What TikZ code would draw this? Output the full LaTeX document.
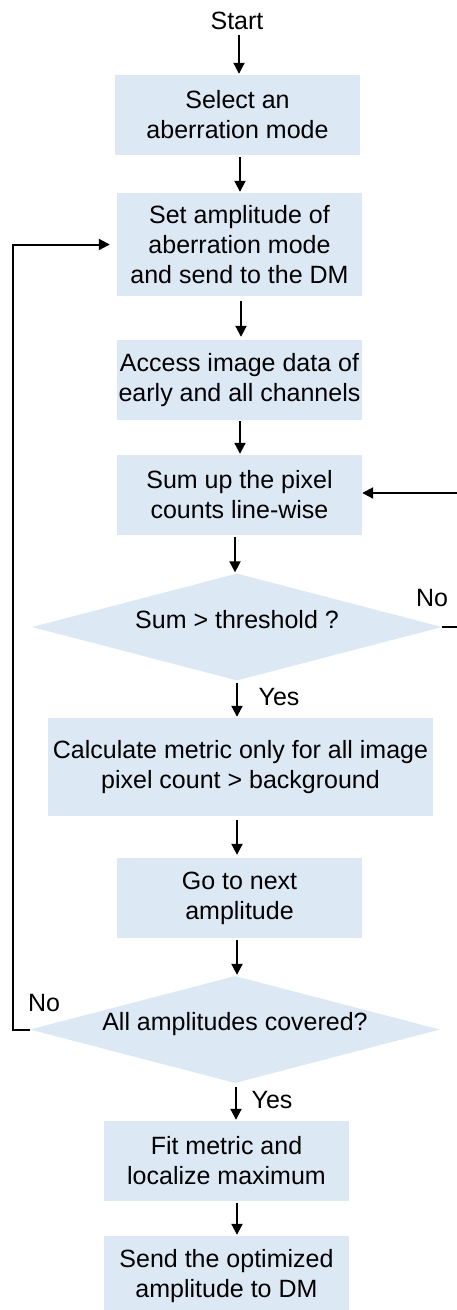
\documentclass[tikz,border=0pt]{standalone}
\usepackage{fontspec}
\setmainfont{Liberation Sans}
\usetikzlibrary{shapes.geometric,arrows.meta,calc}
\definecolor{boxfill}{RGB}{221,232,245}
\begin{document}
\begin{tikzpicture}[x=1pt,y=-1pt,
  every node/.style={font=\fontsize{25}{30}\selectfont, align=center, inner sep=0pt},
  procbox/.style={fill=boxfill, draw=none, minimum height=80pt, minimum width=245pt},
  decision/.style={diamond, fill=boxfill, draw=none, minimum width=410pt, minimum height=107pt, aspect=3.8},
  flow/.style={line width=2pt, -{Triangle[length=11pt,width=11pt]}},
  plainline/.style={line width=2pt}
]
\useasboundingbox (0,0) rectangle (457,1310);
\node (start) at (237,21) {Start};
\node[procbox] (b1) at (237.5,115) {Select an\\aberration mode};
\node[procbox, minimum height=103pt] (b2) at (239.5,244.5) {Set amplitude of\\aberration mode\\and send to the DM};
\node[procbox] (b3) at (239.5,380) {Access image data of\\early and all channels};
\node[procbox] (b4) at (239.5,495) {Sum up the pixel\\counts line-wise};
\node[decision] (d1) at (237,627) {};
\node (d1t) at (237,620) {Sum > threshold ?};
\node[procbox, minimum width=385pt, minimum height=98pt] (b5) at (240.5,767) {Calculate metric only for all image\\pixel count > background};
\node[procbox] (b6) at (239.5,898) {Go to next\\amplitude};
\node[decision] (d2) at (235,1029.5) {};
\node (d2t) at (235,1024) {All amplitudes covered?};
\node[procbox] (b7) at (226.5,1161) {Fit metric and\\localize maximum};
\node[procbox] (b8) at (226.5,1276) {Send the optimized\\amplitude to DM};

\node (no1) at (432,598) {No};
\node (yes1) at (279,697) {Yes};
\node (no2) at (44,1003) {No};
\node (yes2) at (272,1100) {Yes};

\draw[flow, shorten <=5pt, shorten >=1pt] (start.south -| 239,0) -- (b1.north -| 239,0);
\draw[flow, shorten <=2pt, shorten >=1pt] (b1.south -| 240,0) -- (b2.north -| 240,0);
\draw[flow, shorten <=5pt, shorten >=3pt] (b2.south -| 241,0) -- (b3.north -| 241,0);
\draw[flow, shorten <=1pt, shorten >=1pt] (b3.south -| 240,0) -- (b4.north -| 240,0);
\draw[flow, shorten <=2pt, shorten >=1pt] (b4.south -| 235,0) -- (d1.north -| 235,0);
\draw[flow, shorten <=2pt, shorten >=1pt] (d1.south -| 237,0) -- (b5.north -| 237,0);
\draw[flow, shorten <=4pt, shorten >=3pt] (b5.south -| 237,0) -- (b6.north -| 237,0);
\draw[flow, shorten <=2pt, shorten >=1pt] (b6.south -| 237,0) -- (d2.north -| 237,0);
\draw[flow, shorten <=4pt, shorten >=1pt] (d2.south -| 236,0) -- (b7.north -| 236,0);
\draw[flow, shorten <=2pt, shorten >=1pt] (b7.south -| 237,0) -- (b8.north -| 237,0);

% No loop from d1 back to b4 (vertical part lies beyond the right edge)
\coordinate (r1) at (475,627);
\coordinate (r2) at (475,493);
\draw[flow, shorten >=0pt] (d1.east) -- (r1) -- (r2) -- (r2 -| b4.east);

% No loop from d2 back to b2
\coordinate (l1) at (13,1029.5);
\draw[flow, shorten >=7pt] (d2.west) -- (l1) |- (b2.west);
\end{tikzpicture}
\end{document}
